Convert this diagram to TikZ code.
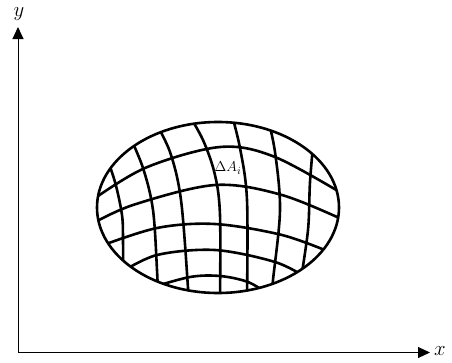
\documentclass[tikz,border=0pt]{standalone}
\usetikzlibrary{arrows.meta}
\begin{document}
\begin{tikzpicture}[x=1pt,y=-1pt,
  axis/.style={line width=1pt,-{Triangle[length=12pt,width=11pt]}},
  grid/.style={line width=2.6pt,smooth,tension=0.55},
  rim/.style={line width=2.6pt},
  lab/.style={inner sep=0pt,font=\fontsize{22}{24}\selectfont}]
\useasboundingbox (0,0) rectangle (452,362);
\coordinate (O) at (18,352.5);
\coordinate (Y) at (18,27);
\coordinate (X) at (430,352.5);
\draw[axis] (O) -- (Y);
\draw[axis] (O) -- (X);
\node[lab] (ylab) at (19,14) {$y$};
\node[lab] (xlab) at (440,351) {$x$};
\begin{scope}
\clip (218,207.5) ellipse [x radius=121, y radius=85.5];
% horizontal curves
\draw[grid] plot coordinates {(88,203) (145,168) (220,147) (275,157) (348,197)};
\draw[grid] plot coordinates {(88,226) (133,205) (215,185) (282,195) (348,222)};
\draw[grid] plot coordinates {(98,247) (157,228) (215,224) (282,235) (332,253)};
\draw[grid] plot coordinates {(120,273) (157,255) (215,250) (275,262) (307,278)};
\draw[grid] plot coordinates {(150,288) (190,277) (220,276) (248,282) (268,294)};
% vertical curves
\draw[grid] plot coordinates {(104,150) (115,182) (122,215) (123,240) (123,270)};
\draw[grid] plot coordinates {(127,130) (143,168) (153,210) (157,270) (158,298)};
\draw[grid] plot coordinates {(153,118) (170,152) (181,200) (188,288) (188,300)};
\draw[grid] plot coordinates {(186,110) (203,140) (215,175) (220,215) (220,300)};
\draw[grid] plot coordinates {(230,108) (240,148) (247,200) (247,300)};
\draw[grid] plot coordinates {(267,115) (275,152) (280,210) (273,280) (271,300)};
\draw[grid] plot coordinates {(314,135) (310,182) (308,230) (300,285)};
\end{scope}
\draw[rim] (218,207.5) ellipse [x radius=121, y radius=85.5];
\node[font=\fontsize{15}{17}\selectfont,inner sep=0pt] (dA) at (228,168) {$\Delta A_i$};
\end{tikzpicture}
\end{document}
